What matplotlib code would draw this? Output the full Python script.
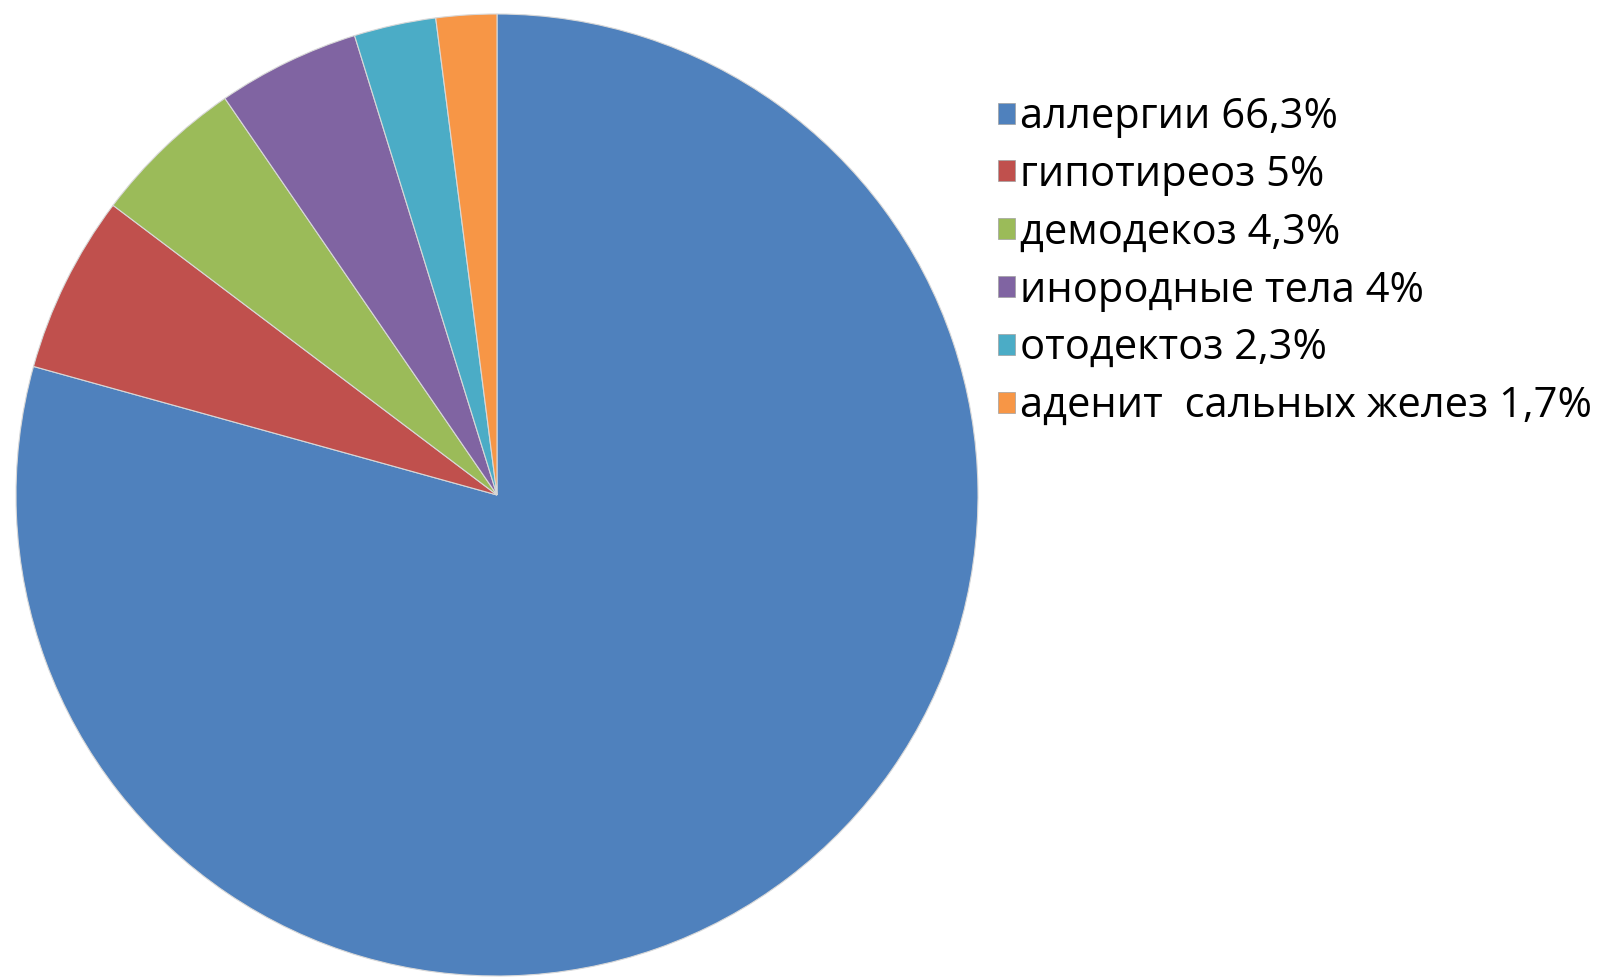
import matplotlib.pyplot as plt
from matplotlib.patches import Patch

labels = ['аллергии 66,3%', 'гипотиреоз 5%', 'демодекоз 4,3%',
          'инородные тела 4%', 'отодектоз 2,3%', 'аденит  сальных желез 1,7%']
values = [66.3, 5, 4.3, 4, 2.3, 1.7]
colors = ['#4F81BD', '#C0504D', '#9BBB59', '#8064A2', '#4BACC6', '#F79646']

plt.rcParams['font.family'] = ['Open Sans', 'DejaVu Sans']

fig = plt.figure(figsize=(16.06, 9.77), dpi=100)
ax = fig.add_axes([16 / 1606, 1 / 977, 962 / 1606, 962 / 977])
ax.pie(values, colors=colors, startangle=90, counterclock=False, radius=1,
       wedgeprops=dict(edgecolor='#d8d8d8', linewidth=0.8))
ax.set_xlim(-1, 1)
ax.set_ylim(-1, 1)
ax.set_aspect('equal')
ax.axis('off')

handles = [Patch(facecolor=c, edgecolor='#a0a0a0', linewidth=0.5) for c in colors]
fig.legend(handles, labels, loc='upper left', bbox_to_anchor=(998 / 1606, 1 - 96 / 977),
           frameon=False, fontsize=30, handlelength=0.4, handleheight=0.4,
           handletextpad=0.12, labelspacing=0.38, borderpad=0, borderaxespad=0)

fig.savefig('out.png', dpi=100)
